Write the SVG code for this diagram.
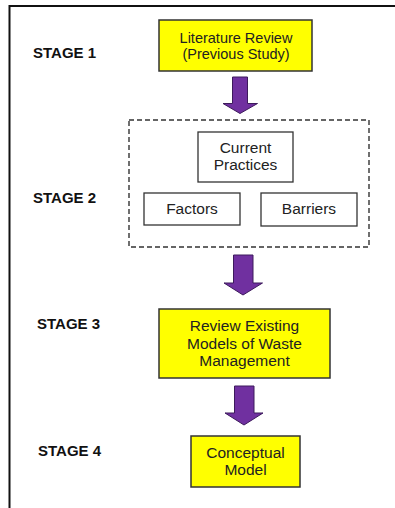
<svg xmlns="http://www.w3.org/2000/svg" width="395" height="508" viewBox="0 0 395 508">
  <style>
    .stage { font-family: "Liberation Sans", Arial, sans-serif; font-weight: bold; font-size: 15px; fill: #111; }
    .label { font-family: "Liberation Sans", Arial, sans-serif; font-size: 15.5px; fill: #222; text-anchor: middle; }
    .tight { font-size: 14.5px; }
    .yellow { fill: #ffff00; stroke: #333; stroke-width: 1.5; }
    .white { fill: #ffffff; stroke: #333; stroke-width: 1.3; }
    .group { fill: none; stroke: #333; stroke-width: 1.4; stroke-dasharray: 5 3; }
    .arrow { fill: #7030a0; stroke: #3d1a5c; stroke-width: 1; }
  </style>

  <rect width="395" height="508" fill="#ffffff"/>

  <!-- outer frame -->
  <path d="M9.5 508 V6 H395" fill="none" stroke="#111" stroke-width="2"/>

  <!-- stage labels -->
  <g id="stage-labels">
    <text class="stage" x="33" y="58">STAGE 1</text>
    <text class="stage" x="33" y="203">STAGE 2</text>
    <text class="stage" x="37" y="329">STAGE 3</text>
    <text class="stage" x="38" y="456">STAGE 4</text>
  </g>

  <g id="literature-review">
    <rect class="yellow" x="159" y="20" width="153" height="51"/>
    <text class="label tight" x="236" y="43">Literature Review</text>
    <text class="label tight" x="236" y="59">(Previous Study)</text>
  </g>

  <g id="stage2-group">
    <rect class="group" x="129" y="120" width="240" height="127"/>
  </g>

  <g id="current-practices">
    <rect class="white" x="198" y="132" width="95" height="50"/>
    <text class="label" x="245.5" y="153">Current</text>
    <text class="label" x="245.5" y="170">Practices</text>
  </g>

  <g id="factors">
    <rect class="white" x="144" y="193" width="96" height="32"/>
    <text class="label" x="192" y="214">Factors</text>
  </g>

  <g id="barriers">
    <rect class="white" x="261" y="193" width="96" height="33"/>
    <text class="label" x="309" y="214">Barriers</text>
  </g>

  <g id="review-existing-models">
    <rect class="yellow" x="159" y="309" width="171" height="69"/>
    <text class="label" x="244.5" y="331">Review Existing</text>
    <text class="label" x="244.5" y="348.5">Models of Waste</text>
    <text class="label" x="244.5" y="365.5">Management</text>
  </g>

  <g id="conceptual-model">
    <rect class="yellow" x="191" y="436" width="109" height="51"/>
    <text class="label" x="245.5" y="457.5">Conceptual</text>
    <text class="label" x="245.5" y="474.5">Model</text>
  </g>

  <!-- block arrows between stages -->
  <g id="connectors">
    <path class="arrow" d="M232.5 77 H247.5 V103.5 H257.5 L240 113.5 L223 103.5 H232.5 Z"/>
    <path class="arrow" d="M233.5 255 H253 V283 H262.5 L243 295 L224 283 H233.5 Z"/>
    <path class="arrow" d="M234.5 386 H254 V413 H263 L244 425 L225 413 H234.5 Z"/>
  </g>
</svg>
